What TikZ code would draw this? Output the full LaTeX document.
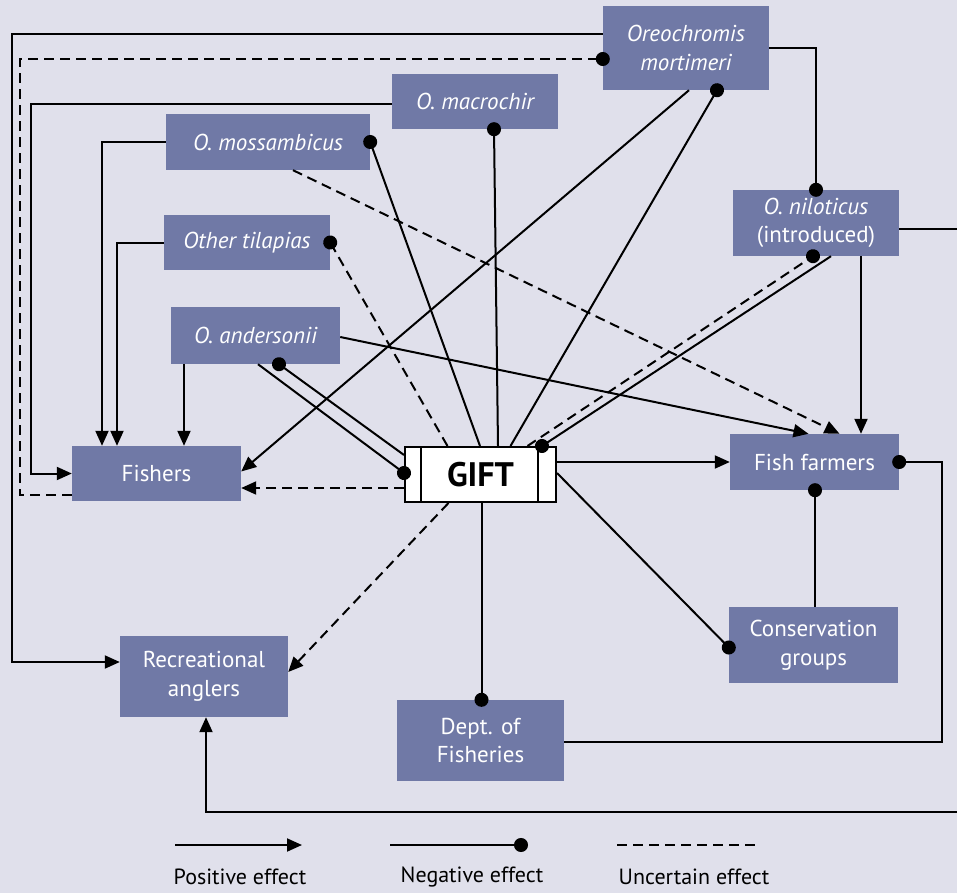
\documentclass[tikz,border=0pt]{standalone}
\usepackage{fontspec}
\setmainfont{PT Sans}
\usetikzlibrary{arrows.meta}
\definecolor{bg}{RGB}{224,224,235}
\definecolor{boxc}{RGB}{112,121,166}
\begin{document}
\begin{tikzpicture}[x=1pt,y=-1pt,
  box/.style={fill=boxc, text=white, inner sep=0pt, align=center, font=\fontsize{23}{28.5}\selectfont},
  sp/.style={box, font=\fontsize{23}{28.5}\selectfont\itshape},
  conn/.style={line width=2pt},
  posarr/.style={conn, -{Triangle[length=15pt,width=13pt]}},
  negdot/.style={conn, -{Circle[length=14pt]}, shorten >=-7pt},
  uncd/.style={dash pattern=on 10pt off 6pt},
  legtext/.style={font=\fontsize{22}{26}\selectfont, text=black, inner sep=0pt}
]
\useasboundingbox (0,0) rectangle (957,893);
\fill[bg] (0,0) rectangle (957,893);

% nodes
\node[sp, minimum width=166pt, minimum height=84pt] (mort) at (686,48) {Oreochromis\\mortimeri};
\node[sp, minimum width=166pt, minimum height=55pt] (macro) at (475,101.5) {O. macrochir};
\node[sp, minimum width=204pt, minimum height=56pt] (moss) at (268,142) {O. mossambicus};
\node[sp, minimum width=166pt, minimum height=55pt] (other) at (247,242.5) {Other tilapias};
\node[sp, minimum width=169pt, minimum height=57pt] (ander) at (255.5,335.5) {O. andersonii};
\node[box, minimum width=166pt, minimum height=66pt] (nilo) at (816,223) {\textit{O. niloticus}\\(introduced)};
\node[box, minimum width=169pt, minimum height=55pt] (fishers) at (156.5,473.5) {Fishers};
\node[draw=black, fill=white, line width=2pt, inner sep=0pt, minimum width=151pt, minimum height=55pt, font=\fontsize{34}{40}\selectfont\bfseries] (gift) at (480.5,474.5) {GIFT};
\draw[line width=2pt] ([xshift=17pt]gift.north west) -- ([xshift=17pt]gift.south west);
\draw[line width=2pt] ([xshift=-19pt]gift.north east) -- ([xshift=-19pt]gift.south east);
\node[box, minimum width=169pt, minimum height=56pt] (farmers) at (814.5,462) {Fish farmers};
\node[box, minimum width=169pt, minimum height=76pt] (cons) at (813.5,645) {Conservation\\groups};
\node[box, minimum width=168pt, minimum height=81pt] (anglers) at (204,676.5) {Recreational\\anglers};
\node[box, minimum width=167pt, minimum height=81pt] (dept) at (480.5,740.5) {Dept. of\\Fisheries};

\coordinate (eR1) at (960,229);
\coordinate (eR2) at (960,812);

% connectors
\draw[posarr] ([yshift=14pt]mort.west) -| (12,662) -- ([yshift=14.5pt]anglers.west);
\draw[negdot,uncd] ([yshift=-21.5pt]fishers.west) -| (20,59) -- ([yshift=-11pt]mort.west);
\draw[posarr] ([yshift=-2.5pt]macro.west) -| (31,473.5) -- (fishers.west);
\draw[posarr] (moss.west) -| ([xshift=-54.5pt]fishers.north);
\draw[posarr] (other.west) -| ([xshift=-39.5pt]fishers.north);
\draw[posarr] ([xshift=-71.5pt]ander.south) -- ([xshift=27.5pt]fishers.north);
\draw[posarr] ([xshift=3pt]mort.south) -- ([yshift=2pt]fishers.east);
\draw[negdot] ([xshift=30pt]gift.north) -- ([xshift=31pt]mort.south);
\draw[negdot] (mort.east) -| (nilo.north);
\draw[negdot] ([xshift=17.5pt]gift.north) -- ([xshift=19pt]macro.south);
\draw[negdot] ([xshift=-0.5pt]gift.north) -- (moss.east);
\draw[posarr,uncd] ([xshift=25pt]moss.south) -- ([xshift=25pt]farmers.north);
\draw[negdot,uncd] ([xshift=-33pt]gift.north) -- (other.east);
\draw[posarr] ([yshift=-1.5pt]ander.east) -- ([xshift=-6pt]farmers.north);
\draw[negdot] ([yshift=19.5pt]gift.west) -- ([xshift=23.5pt]ander.south);
\draw[negdot] ([xshift=2.5pt]ander.south) -- ([yshift=1.5pt]gift.west);
\draw[posarr,uncd] ([yshift=-13.5pt]gift.west) -- ([yshift=-14.5pt]fishers.east);
\draw[negdot,uncd] ([xshift=47pt]gift.north) -- ([xshift=-3pt]nilo.south);
\draw[negdot] ([xshift=15pt]nilo.south) -- ([xshift=61.5pt]gift.north);
\draw[conn] ([yshift=-6pt]nilo.east) -- (eR1);
\draw[posarr] ([xshift=45pt]nilo.south) -- ([xshift=46.5pt]farmers.north);
\draw[posarr] ([yshift=12.5pt]gift.east) -- (farmers.west);
\draw[negdot] ([yshift=-1.5pt]dept.east) -| (942,462) -- (farmers.east);
\draw[negdot] ([xshift=1.5pt]cons.north) -- ([xshift=0.5pt]farmers.south);
\draw[negdot] ([yshift=1.5pt]gift.east) -- ([yshift=-2.5pt]cons.west);
\draw[negdot] ([xshift=1pt]gift.south) -- ([xshift=1pt]dept.north);
\draw[posarr,uncd] ([xshift=-32pt]gift.south) -- ([yshift=4.5pt]anglers.east);
\draw[posarr] (eR2) -| ([xshift=2pt]anglers.south);

% legend
\coordinate (l1a) at (175,845); \coordinate (l1b) at (302,845);
\coordinate (l2a) at (390,845); \coordinate (l2b) at (521,845);
\coordinate (l3a) at (617,845); \coordinate (l3b) at (755,845);
\draw[posarr] (l1a) -- (l1b);
\draw[negdot] (l2a) -- (l2b);
\draw[conn,uncd] (l3a) -- (l3b);
\node[legtext] (t1) at (240,877) {Positive effect};
\node[legtext] (t2) at (472,877) {Negative effect};
\node[legtext] (t3) at (694,877) {Uncertain effect};
\end{tikzpicture}
\end{document}
